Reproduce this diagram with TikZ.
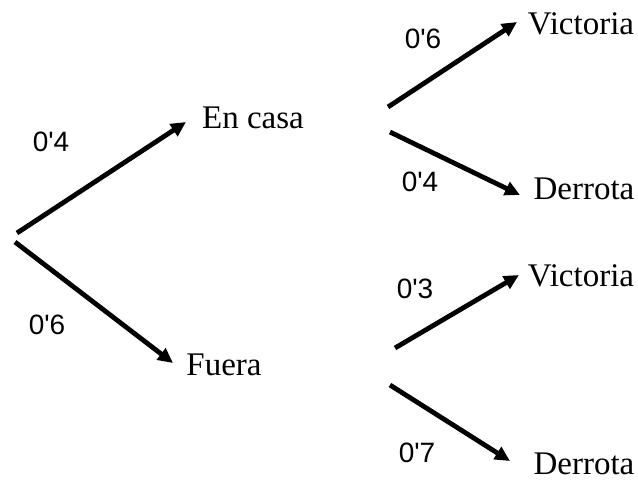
\documentclass[tikz,border=0pt]{standalone}
\usepackage{fontspec}
\setmainfont{Liberation Serif}
\newfontfamily\lblfont{Liberation Sans}
\usetikzlibrary{arrows.meta}
\tikzset{
  branch/.style={line width=2.4pt, -{Triangle[length=7.5pt,width=7pt]}},
  outcome/.style={font=\fontsize{16.5}{19}\selectfont, inner sep=0pt},
  prob/.style={font=\fontsize{14}{16}\lblfont, inner sep=0pt}
}
\begin{document}
\begin{tikzpicture}[x=0.5pt,y=-0.5pt]
\useasboundingbox (0,0) rectangle (638,479);
% outcome nodes
\node[outcome] (casa) at (253,118) {En casa};
\node[outcome] (fuera) at (224,365) {Fuera};
\node[outcome] (v1) at (581,24) {Victoria};
\node[outcome] (d1) at (584,189) {Derrota};
\node[outcome] (v2) at (581,276) {Victoria};
\node[outcome] (d2) at (584,464) {Derrota};
% coordinates
\coordinate (r1) at (17,233);
\coordinate (r2) at (15,242);
\coordinate (e1) at (186,122);
\coordinate (e2) at (173,363);
\coordinate (c1) at (388,107);
\coordinate (c2) at (390,132);
\coordinate (t1) at (517,22);
\coordinate (t2) at (520,195);
\coordinate (f1) at (395,348);
\coordinate (f2) at (390,385);
\coordinate (t3) at (519,275);
\coordinate (t4) at (510,461);
% branches
\draw[branch] (r1) -- (e1);
\draw[branch] (r2) -- (e2);
\draw[branch] (c1) -- (t1);
\draw[branch] (c2) -- (t2);
\draw[branch] (f1) -- (t3);
\draw[branch] (f2) -- (t4);
% probabilities
\node[prob] (p1) at (51,142) {0'4};
\node[prob] (p2) at (47,325) {0'6};
\node[prob] (p3) at (423,39) {0'6};
\node[prob] (p4) at (420,182) {0'4};
\node[prob] (p5) at (415,289) {0'3};
\node[prob] (p6) at (417,453) {0'7};
\end{tikzpicture}
\end{document}
